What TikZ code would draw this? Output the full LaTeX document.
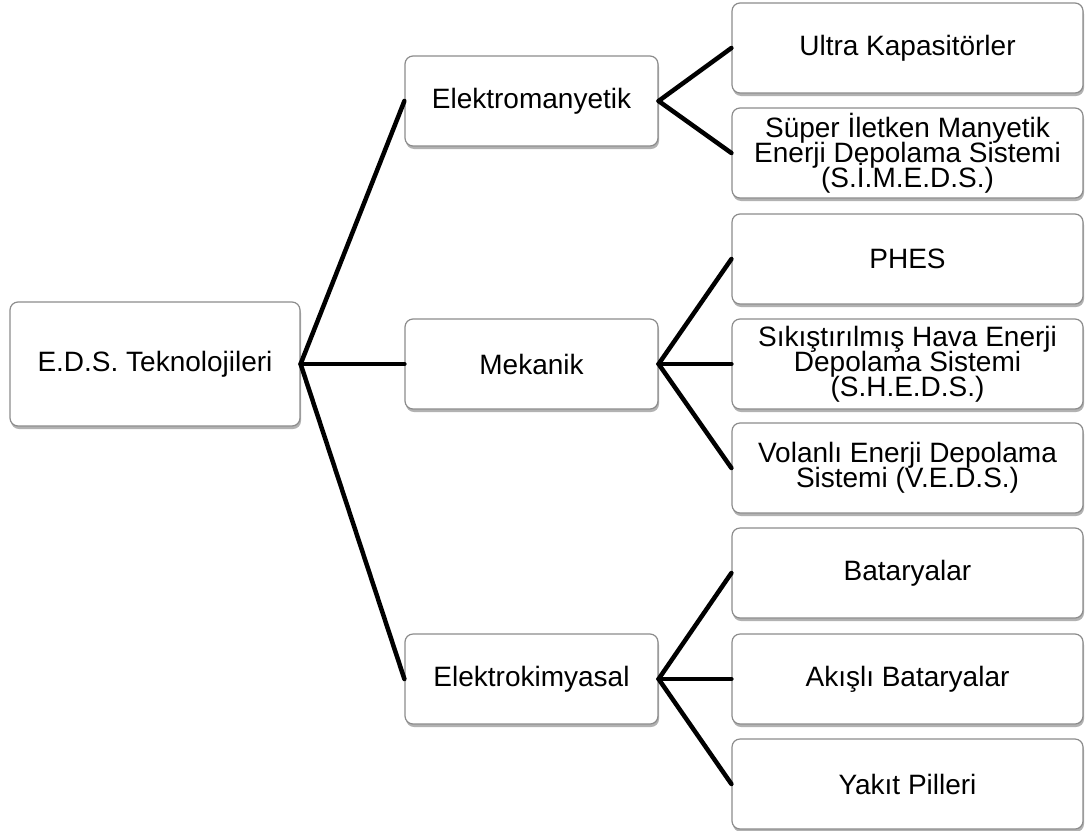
\documentclass[tikz,border=0pt]{standalone}
\usepackage{fontspec}
\setmainfont{Liberation Sans}
\usetikzlibrary{shadows}
\newcommand{\edsboxfont}{\fontsize{28}{25}\selectfont\lineskiplimit=-20pt\relax}
\begin{document}
\begin{tikzpicture}[x=1pt,y=-1pt,
  box/.style={draw=black!45, line width=1.2pt, fill=white, rounded corners=8pt,
    align=center, inner sep=0pt, font=\edsboxfont,
    drop shadow={shadow xshift=1pt, shadow yshift=-3pt, opacity=0.3, fill=black}},
  rootbox/.style={box, minimum width=290pt, minimum height=124pt},
  midbox/.style={box, minimum width=253pt, minimum height=90pt},
  leafbox/.style={box, minimum width=351pt, minimum height=90pt},
  link/.style={line width=4.5pt, line cap=round}]
\useasboundingbox (0,0) rectangle (1086,830);
\node[rootbox] (root) at (155,364) {E.D.S. Teknolojileri};
\node[midbox] (elm) at (531.5,101) {Elektromanyetik};
\node[midbox] (mek) at (531.5,364) {Mekanik};
\node[midbox] (ekm) at (531.5,679) {Elektrokimyasal};
\node[leafbox] (ultra) at (907.5,48) {Ultra Kapasitörler};
\node[leafbox] (simeds) at (907.5,153) {Süper İletken Manyetik\\Enerji Depolama Sistemi\\(S.İ.M.E.D.S.)};
\node[leafbox] (phes) at (907.5,259) {PHES};
\node[leafbox] (sheds) at (907.5,364) {Sıkıştırılmış Hava Enerji\\Depolama Sistemi\\(S.H.E.D.S.)};
\node[leafbox] (veds) at (907.5,468) {Volanlı Enerji Depolama\\Sistemi (V.E.D.S.)};
\node[leafbox] (bat) at (907.5,573) {Bataryalar};
\node[leafbox] (akis) at (907.5,679) {Akışlı Bataryalar};
\node[leafbox] (yakit) at (907.5,784) {Yakıt Pilleri};
\draw[link] (root.east) -- (elm.west);
\draw[link] (root.east) -- (mek.west);
\draw[link] (root.east) -- (ekm.west);
\draw[link] (elm.east) -- (ultra.west);
\draw[link] (elm.east) -- (simeds.west);
\draw[link] (mek.east) -- (phes.west);
\draw[link] (mek.east) -- (sheds.west);
\draw[link] (mek.east) -- (veds.west);
\draw[link] (ekm.east) -- (bat.west);
\draw[link] (ekm.east) -- (akis.west);
\draw[link] (ekm.east) -- (yakit.west);
\end{tikzpicture}
\end{document}
